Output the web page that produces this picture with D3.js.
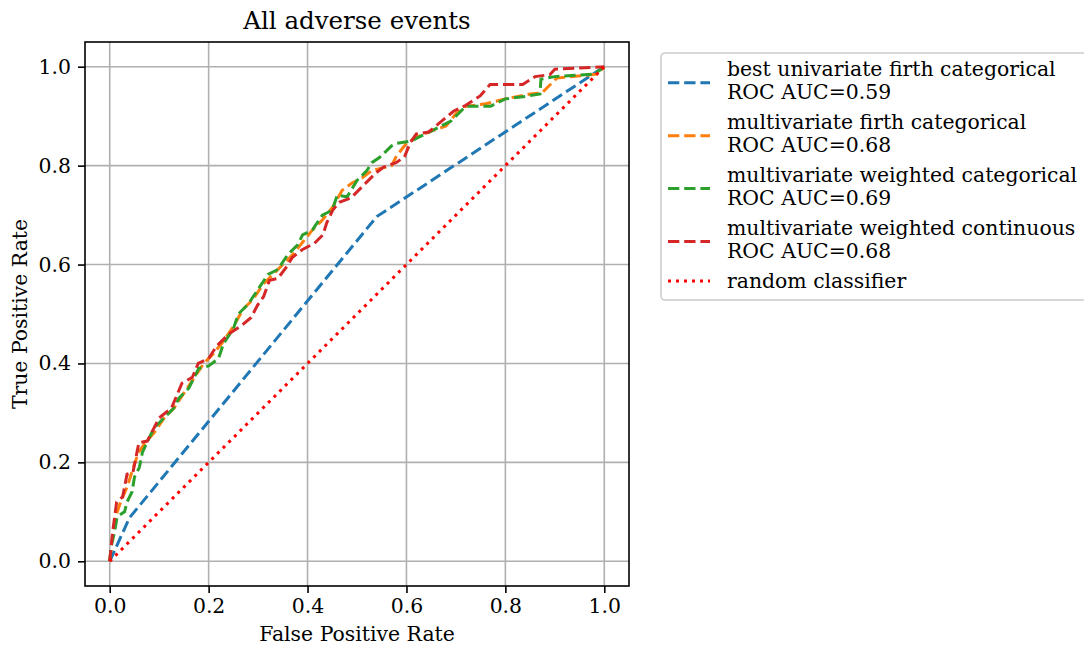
<!DOCTYPE html>
<html>
<head>
<meta charset="utf-8">
<script src="https://cdn.jsdelivr.net/npm/d3@7"></script>
<style>
  body { margin: 0; background: #fff; }
  svg text { font-family: "DejaVu Serif", serif; fill: #000; }
</style>
</head>
<body>
<svg id="chart" width="1084" height="646"></svg>
<script>
// ---- data ----
const title = "All adverse events";
const xLabel = "False Positive Rate";
const yLabel = "True Positive Rate";
const tickValues = [0.0, 0.2, 0.4, 0.6, 0.8, 1.0];

const seriesNames = [
  "best univariate firth categorical",
  "multivariate firth categorical",
  "multivariate weighted categorical",
  "multivariate weighted continuous"
];
const seriesAUC = ["0.59", "0.68", "0.69", "0.68"];
const seriesColors = ["#1f77b4", "#ff7f0e", "#2ca02c", "#d62728"];

const bestUnivariateFirthCat = [
  [0, 0], [0.04, 0.088], [0.54, 0.697], [1, 1]
];
const multivariateFirthCat = [
  [0,0],[0.004,0.04],[0.012,0.09],[0.022,0.12],[0.035,0.15],[0.048,0.19],[0.058,0.22],[0.072,0.24],
  [0.09,0.26],[0.11,0.29],[0.13,0.31],[0.15,0.34],[0.17,0.37],[0.19,0.40],[0.21,0.42],[0.23,0.445],
  [0.25,0.475],[0.27,0.51],[0.29,0.53],[0.31,0.56],[0.33,0.58],[0.35,0.60],[0.37,0.62],[0.39,0.645],
  [0.41,0.67],[0.43,0.69],[0.45,0.715],[0.47,0.75],[0.49,0.765],[0.51,0.775],[0.53,0.79],[0.55,0.795],
  [0.57,0.80],[0.58,0.82],[0.60,0.845],[0.62,0.857],[0.65,0.87],[0.68,0.88],[0.70,0.905],[0.72,0.92],
  [0.76,0.925],[0.80,0.935],[0.85,0.945],[0.874,0.947],[0.904,0.977],[0.985,0.985],[1,1]
];
const multivariateWeightedCat = [
  [0,0],[0.003,0.03],[0.01,0.06],[0.015,0.09],[0.03,0.10],[0.035,0.12],[0.045,0.14],[0.05,0.17],
  [0.06,0.19],[0.066,0.22],[0.08,0.25],[0.09,0.27],[0.11,0.29],[0.13,0.31],[0.14,0.33],[0.16,0.35],
  [0.17,0.37],[0.18,0.39],[0.20,0.395],[0.22,0.41],[0.23,0.44],[0.25,0.47],[0.26,0.50],[0.28,0.52],
  [0.30,0.55],[0.32,0.58],[0.34,0.59],[0.36,0.62],[0.38,0.64],[0.39,0.66],[0.41,0.67],[0.43,0.70],
  [0.45,0.71],[0.46,0.74],[0.48,0.737],[0.50,0.77],[0.52,0.79],[0.53,0.806],[0.546,0.817],[0.57,0.84],
  [0.58,0.845],[0.61,0.85],[0.63,0.86],[0.66,0.875],[0.69,0.89],[0.72,0.92],[0.77,0.92],[0.78,0.925],
  [0.80,0.935],[0.84,0.94],[0.87,0.945],[0.872,0.975],[0.90,0.98],[0.98,0.985],[1,1]
];
const multivariateWeightedCont = [
  [0,0],[0.006,0.06],[0.014,0.12],[0.026,0.13],[0.035,0.176],[0.047,0.18],[0.059,0.24],[0.076,0.243],
  [0.10,0.29],[0.125,0.31],[0.146,0.36],[0.167,0.372],[0.179,0.40],[0.20,0.41],[0.216,0.435],[0.241,0.46],
  [0.266,0.476],[0.286,0.493],[0.299,0.518],[0.311,0.535],[0.323,0.568],[0.34,0.572],[0.356,0.593],
  [0.369,0.614],[0.389,0.63],[0.414,0.643],[0.431,0.66],[0.439,0.685],[0.451,0.71],[0.464,0.726],
  [0.488,0.735],[0.513,0.76],[0.538,0.785],[0.554,0.797],[0.579,0.806],[0.596,0.818],[0.608,0.847],
  [0.62,0.864],[0.645,0.868],[0.67,0.889],[0.695,0.91],[0.72,0.922],[0.749,0.941],[0.769,0.964],
  [0.835,0.964],[0.86,0.98],[0.89,0.984],[0.90,0.995],[1,1]
];
const randomClassifier = [[0, 0], [1, 1]];
const randomLabel = "random classifier";

const seriesData = [bestUnivariateFirthCat, multivariateFirthCat, multivariateWeightedCat, multivariateWeightedCont];

// ---- layout ----
const svg = d3.select("#chart");
const L = 85, R = 629, T = 42, B = 586;
const FS = "20.4px";
const LW = 3.0, DASH = "11.3,4.9", DOT = "3,5";
const x = d3.scaleLinear().domain([-0.05, 1.05]).range([L, R]);
const y = d3.scaleLinear().domain([-0.05, 1.05]).range([B, T]);

// grid
const g = svg.append("g");
g.selectAll("line.gx").data(tickValues).enter().append("line")
  .attr("x1", d => x(d)).attr("x2", d => x(d)).attr("y1", T).attr("y2", B)
  .attr("stroke", "#b0b0b0").attr("stroke-width", 1.6);
g.selectAll("line.gy").data(tickValues).enter().append("line")
  .attr("y1", d => y(d)).attr("y2", d => y(d)).attr("x1", L).attr("x2", R)
  .attr("stroke", "#b0b0b0").attr("stroke-width", 1.6);

// lines
const line = d3.line().x(d => x(d[0])).y(d => y(d[1]));
const plot = svg.append("g");
seriesData.forEach((data, i) => {
  plot.append("path").datum(data).attr("d", line)
    .attr("fill", "none").attr("stroke", seriesColors[i]).attr("stroke-width", LW)
    .attr("stroke-dasharray", DASH);
});
plot.append("path").datum(randomClassifier).attr("d", line)
  .attr("fill", "none").attr("stroke", "#ff0000").attr("stroke-width", LW)
  .attr("stroke-dasharray", DOT);

// axes
const fmt = d3.format(".1f");
const xAxis = svg.append("g").attr("transform", `translate(0,${B})`)
  .call(d3.axisBottom(x).tickValues(tickValues).tickFormat(fmt).tickSize(7).tickPadding(6));
const yAxis = svg.append("g").attr("transform", `translate(${L},0)`)
  .call(d3.axisLeft(y).tickValues(tickValues).tickFormat(fmt).tickSize(7).tickPadding(7));
[xAxis, yAxis].forEach(a => {
  a.select(".domain").remove();
  a.selectAll(".tick line").attr("stroke", "#000").attr("stroke-width", 1.6);
  a.selectAll(".tick text").style("font-family", "DejaVu Serif").style("font-size", FS);
});

// frame
svg.append("rect").attr("x", L).attr("y", T).attr("width", R - L).attr("height", B - T)
  .attr("fill", "none").attr("stroke", "#000").attr("stroke-width", 1.6);

// titles
svg.append("text").attr("x", (L + R) / 2).attr("y", 29).attr("text-anchor", "middle")
  .style("font-size", "24.5px").text(title);
svg.append("text").attr("x", (L + R) / 2).attr("y", 641).attr("text-anchor", "middle")
  .style("font-size", FS).text(xLabel);
svg.append("text").attr("transform", `translate(27,${(T + B) / 2}) rotate(-90)`)
  .attr("text-anchor", "middle").style("font-size", FS).text(yLabel);

// legend
const lg = svg.append("g");
lg.append("rect").attr("x", 661).attr("y", 53).attr("width", 440).attr("height", 247)
  .attr("rx", 4).attr("fill", "#fff").attr("stroke", "#cccccc").attr("stroke-width", 1.6);
const baseTop = [76, 129, 182, 235];
const lineY = [82.7, 135.7, 188.5, 241.5];
seriesNames.forEach((name, i) => {
  lg.append("line").attr("x1", 668).attr("x2", 710).attr("y1", lineY[i]).attr("y2", lineY[i])
    .attr("stroke", seriesColors[i]).attr("stroke-width", LW).attr("stroke-dasharray", DASH);
  lg.append("text").attr("x", 727).attr("y", baseTop[i]).style("font-size", FS).text(name);
  lg.append("text").attr("x", 727).attr("y", baseTop[i] + 23.3).style("font-size", FS).text("ROC AUC=" + seriesAUC[i]);
});
lg.append("line").attr("x1", 668).attr("x2", 710).attr("y1", 281).attr("y2", 281)
  .attr("stroke", "#ff0000").attr("stroke-width", LW).attr("stroke-dasharray", DOT);
lg.append("text").attr("x", 727).attr("y", 288).style("font-size", FS).text(randomLabel);
</script>
</body>
</html>
